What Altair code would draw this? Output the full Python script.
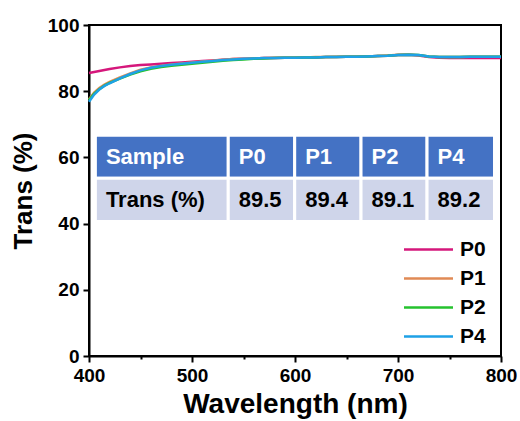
import altair as alt
import pandas as pd

# ---------------- data ----------------
wavelength = [400, 405, 410, 415, 420, 430, 440, 450, 460, 470, 480, 490, 500,
              510, 520, 530, 540, 550, 560, 570, 580, 590, 600, 610, 620, 630,
              640, 650, 660, 670, 680, 690, 700, 710, 720, 730, 740, 750, 760,
              770, 780, 790, 800]

p0 = [85.5, 85.8, 86.1, 86.4, 86.7, 87.2, 87.6, 87.9, 88.1, 88.3, 88.5, 88.7, 88.9,
      89.1, 89.3, 89.5, 89.7, 89.8, 89.9, 90.0, 90.0, 90.1, 90.1, 90.2, 90.2, 90.3,
      90.3, 90.4, 90.4, 90.5, 90.6, 90.7, 90.9, 91.0, 90.8, 90.3, 90.1, 90.0, 90.0,
      90.0, 90.0, 90.0, 90.0]
p1 = [77.6, 79.6, 81.0, 82.0, 82.8, 84.2, 85.4, 86.5, 87.2, 87.7, 88.1, 88.4, 88.7,
      89.0, 89.2, 89.5, 89.7, 89.8, 89.9, 90.0, 90.1, 90.1, 90.2, 90.2, 90.3, 90.3,
      90.4, 90.4, 90.5, 90.5, 90.6, 90.8, 91.0, 91.1, 90.9, 90.5, 90.3, 90.3, 90.3,
      90.4, 90.4, 90.4, 90.4]
p2 = [77.3, 79.3, 80.6, 81.7, 82.5, 83.8, 85.0, 86.0, 86.8, 87.3, 87.7, 88.0, 88.3,
      88.6, 88.9, 89.2, 89.4, 89.6, 89.8, 89.9, 90.0, 90.1, 90.1, 90.2, 90.2, 90.3,
      90.3, 90.4, 90.4, 90.5, 90.6, 90.7, 90.9, 91.0, 90.9, 90.5, 90.3, 90.3, 90.3,
      90.4, 90.4, 90.4, 90.4]
p4 = [76.8, 79.0, 80.5, 81.6, 82.4, 83.9, 85.2, 86.3, 87.1, 87.6, 88.0, 88.3, 88.6,
      88.9, 89.1, 89.4, 89.6, 89.8, 89.9, 90.0, 90.0, 90.1, 90.1, 90.2, 90.2, 90.3,
      90.3, 90.4, 90.4, 90.5, 90.6, 90.7, 90.9, 91.0, 90.9, 90.5, 90.3, 90.3, 90.3,
      90.4, 90.4, 90.4, 90.4]

series_names = ["P0", "P1", "P2", "P4"]
series_values = [p0, p1, p2, p4]
series_colors = ["#D5177B", "#E08A55", "#25C22E", "#1EA1E6"]

table_header = ["Sample", "P0", "P1", "P2", "P4"]
table_row = ["Trans (%)", "89.5", "89.4", "89.1", "89.2"]

# ---------------- layout constants (table placement, data units) ----------------
col_edges = [406.2, 535.2, 599.7, 664.1, 728.2, 793.7]
row_edges = [66.7, 53.7, 40.6]

FONT = "Liberation Sans"

rows = []
for name, vals in zip(series_names, series_values):
    for w, v in zip(wavelength, vals):
        rows.append({"wl": w, "T": v, "series": name})
df = pd.DataFrame(rows)

cells = []
for r, (texts, fill, tcolor) in enumerate([(table_header, "#4472C4", "white"),
                                           (table_row, "#CFD5EA", "black")]):
    for c, t in enumerate(texts):
        cells.append({"x0": col_edges[c], "x1": col_edges[c + 1],
                      "y0": row_edges[r], "y1": row_edges[r + 1],
                      "ym": (row_edges[r] + row_edges[r + 1]) / 2,
                      "text": t, "fill": fill, "tcolor": tcolor})
cdf = pd.DataFrame(cells)

xscale = alt.Scale(domain=[400, 800], nice=False, zero=False)
yscale = alt.Scale(domain=[0, 100], nice=False)

xaxis = alt.Axis(values=list(range(400, 801, 50)),
                 labelExpr="datum.value % 100 === 0 ? datum.label : ''",
                 tickSize={"condition": {"test": "datum.value % 100 === 0", "value": 6}, "value": 3},
                 labelFlush=False,
                 title="Wavelength (nm)", grid=False)
yaxis = alt.Axis(values=list(range(0, 101, 10)),
                 labelExpr="datum.value % 20 === 0 ? datum.label : ''",
                 tickSize={"condition": {"test": "datum.value % 20 === 0", "value": 6}, "value": 3},
                 labelFlush=False,
                 title="Trans (%)", grid=False)

lines = alt.Chart(df).mark_line(strokeWidth=2.5).encode(
    x=alt.X("wl:Q", scale=xscale, axis=xaxis),
    y=alt.Y("T:Q", scale=yscale, axis=yaxis),
    color=alt.Color("series:N",
                    scale=alt.Scale(domain=series_names, range=series_colors),
                    legend=alt.Legend(orient="none", legendX=329, legendY=214,
                                      title=None, symbolType="M-4,0L4,0",
                                      symbolSize=150, symbolStrokeWidth=2.5,
                                      labelFontSize=21, labelFont=FONT,
                                      labelFontWeight="bold", labelColor="black",
                                      labelOffset=21, rowPadding=7, padding=0)),
    order=alt.Order("wl:Q"),
)

rects = alt.Chart(cdf).mark_rect(stroke="white", strokeWidth=3).encode(
    x=alt.X("x0:Q", scale=xscale),
    x2="x1:Q",
    y=alt.Y("y0:Q", scale=yscale),
    y2="y1:Q",
    fill=alt.Fill("fill:N", scale=None),
)

texts = alt.Chart(cdf).mark_text(align="left", baseline="middle", dx=10.5,
                                 font=FONT, fontSize=22, fontWeight="bold").encode(
    x=alt.X("x0:Q", scale=xscale),
    y=alt.Y("ym:Q", scale=yscale),
    text="text:N",
    color=alt.Color("tcolor:N", scale=None),
)

chart = alt.layer(lines, rects, texts).properties(
    width=412, height=331,
    padding={"left": 89, "top": 25, "right": 19, "bottom": 65},
    autosize=alt.AutoSizeParams(type="none"),
).configure_view(
    stroke="black", strokeWidth=2
).configure_axis(
    domainColor="black", domainWidth=2, tickColor="black", tickWidth=2,
    labelFont=FONT, labelFontSize=19, labelFontWeight="bold", labelColor="black",
    titleFont=FONT, titleFontWeight="bold", titleColor="black",
    labelPadding=4,
).configure_axisX(
    titleFontSize=28, titlePadding=5,
).configure_axisY(
    titleFontSize=26, titlePadding=11,
)

chart.save("out.html", embed_options={"renderer": "svg", "actions": False})
